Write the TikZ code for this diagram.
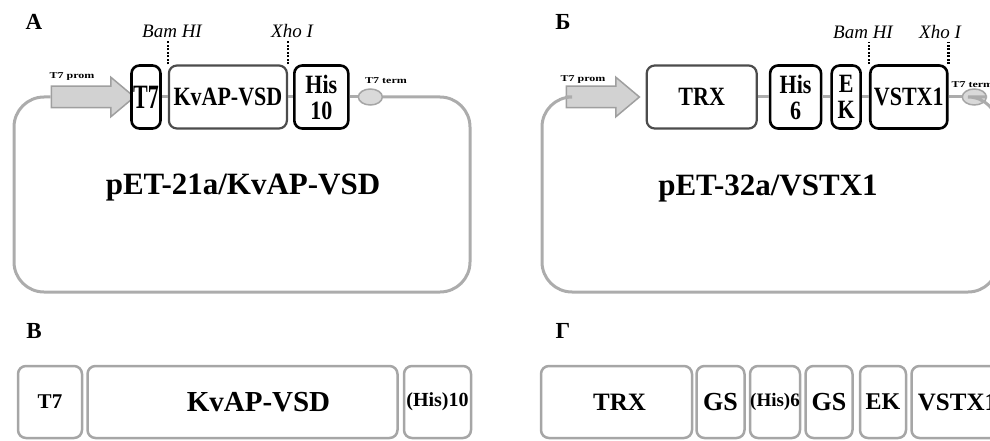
\documentclass[tikz,border=0pt]{standalone}
\usepackage{fontspec}
\setmainfont{Liberation Serif}
\usepackage{graphicx}
\usetikzlibrary{positioning,shapes.geometric,shapes.arrows}

\newcommand{\tallt}[2][1.2]{\scalebox{1}[#1]{#2}}

\begin{document}
\begin{tikzpicture}[
    x=1pt,y=-1pt,
    font=\bfseries,
    backbone/.style={draw=gray!65,line width=3pt},
    gene/.style={rectangle,rounded corners=8pt,draw=black,line width=2.6pt,fill=white,
                 inner sep=0pt,minimum height=63pt,font=\bfseries\fontsize{22}{22}\selectfont},
    genegray/.style={gene,draw=black!70,line width=2.2pt},
    seg/.style={rectangle,rounded corners=8pt,draw=gray!70,line width=2.5pt,fill=white,
                inner sep=0pt,minimum height=72pt,font=\bfseries\fontsize{25}{25}\selectfont},
    prom/.style={single arrow,draw=gray!75,line width=1.5pt,fill=gray!35,inner xsep=0pt,
                 inner ysep=10pt,single arrow head extend=9pt,single arrow tip angle=80},
    term/.style={ellipse,draw=gray!70,line width=1.5pt,fill=gray!30,minimum width=24pt,
                 minimum height=16pt,inner sep=0pt},
    tiny/.style={font=\bfseries\fontsize{12}{12}\selectfont},
    site/.style={font=\mdseries\itshape\fontsize{19}{19}\selectfont},
    cut/.style={draw=black,line width=2.2pt,dash pattern=on 2pt off 1.5pt},
    panel/.style={font=\bfseries\fontsize{23}{23}\selectfont},
    title/.style={font=\bfseries\fontsize{31}{31}\selectfont},
]
\clip (0,0) rectangle (990,441);

% ---- А: pET-21a/KvAP-VSD ----
\node[panel] (labA) at (34,22) {А};
\node[prom,minimum height=83pt] (promA) at (86.5,97) {};
\node[tiny] (promAtxt) at (72,77) {\tallt[0.75]{T7 prom}};
\node[gene,minimum width=29pt] (t7A) at (146,97) {\tallt[1.55]{T7}};
\node[genegray,minimum width=118pt,right=6pt of t7A] (kvA) {\tallt{KvAP-VSD}};
\node[gene,minimum width=54pt,right=5pt of kvA,align=center] (hisA) {\tallt{His}\\[4pt]\tallt{10}};
\node[term,right=8pt of hisA] (termA) {};
\node[tiny] (termAtxt) at (386,81) {\tallt[0.75]{T7 term}};
\node[site] (bamA) at (172,31) {Bam HI};
\node[site] (xhoA) at (292,31) {Xho I};
\draw[cut] (kvA.north west) -- (kvA.north west |- bamA.south);
\draw[cut] (kvA.north east) -- (kvA.north east |- xhoA.south);

\draw[backbone] (t7A) -- (kvA) -- (hisA) -- (termA);
\draw[backbone,rounded corners=30pt] (termA.east) -- (470,97) -- (470,292)
   -- (14,292) -- (14,97) -- (promA.west);
\node[title] (nameA) at (243,188) {pET-21a/KvAP-VSD};

% ---- Б: pET-32a/VSTX1 ----
\node[panel] (labB) at (563,22) {Б};
\node[prom,minimum height=73pt] (promB) at (596.5,97) {};
\node[tiny] (promBtxt) at (583,80) {\tallt[0.75]{T7 prom}};
\node[genegray,minimum width=110pt,right=5pt of promB] (trxB) {\tallt{TRX}};
\node[gene,minimum width=51pt,right=11pt of trxB,align=center] (hisB) {\tallt{His}\\[4pt]\tallt{6}};
\node[gene,minimum width=29pt,right=8pt of hisB,align=center] (ekB) {\tallt{E}\\[4pt]\tallt{K}};
\node[gene,minimum width=77pt,right=7pt of ekB] (vsB) {\tallt{VSTX1}};
\node[term,right=13pt of vsB] (termB) {};
\node[tiny,anchor=west] (termBtxt) at (948,85) {\tallt[0.75]{T7 term}};
\node[site] (bamB) at (863,32) {Bam HI};
\node[site] (xhoB) at (940,32) {Xho I};
\draw[cut] (vsB.north west) -- (vsB.north west |- bamB.south);
\draw[cut] (vsB.north east) -- (vsB.north east |- xhoB.south);

\draw[backbone] (trxB) -- (hisB) -- (ekB) -- (vsB) -- (termB);
\draw[backbone,rounded corners=30pt] (termB.east) -- (998,97) -- (998,292)
   -- (542,292) -- (542,97) -- (promB.west);
\node[title] (nameB) at (768,189) {pET-32a/VSTX1};

% ---- В: KvAP-VSD protein ----
\node[panel] (labC) at (34,331) {В};
\node[seg,minimum width=64pt,font=\bfseries\fontsize{21}{21}\selectfont] (sT7) at (50,402) {T7};
\node[seg,minimum width=310pt,right=3pt of sT7,font=\bfseries\fontsize{29}{29}\selectfont]
   (sKv) {\hspace*{32pt}KvAP-VSD};
\node[seg,minimum width=67pt,right=4pt of sKv,font=\bfseries\fontsize{20}{20}\selectfont]
   (sHis) {(His)10};

% ---- Г: TRX-VSTX1 protein ----
\node[panel] (labD) at (563,331) {Г};
\node[seg,minimum width=151pt] (sTrx) at (616.5,402) {\hspace*{6pt}TRX};
\node[seg,minimum width=48pt,right=2pt of sTrx,font=\bfseries\fontsize{26}{26}\selectfont] (sGs1) {GS};
\node[seg,minimum width=50pt,right=3pt of sGs1,font=\bfseries\fontsize{19}{19}\selectfont] (sHis6) {(His)6};
\node[seg,minimum width=47pt,right=3pt of sHis6,font=\bfseries\fontsize{26}{26}\selectfont] (sGs2) {GS};
\node[seg,minimum width=46pt,right=5pt of sGs2,font=\bfseries\fontsize{24}{24}\selectfont] (sEk) {EK};
\node[seg,minimum width=92pt,right=3pt of sEk] (sVs) {VSTX1};
\end{tikzpicture}
\end{document}
